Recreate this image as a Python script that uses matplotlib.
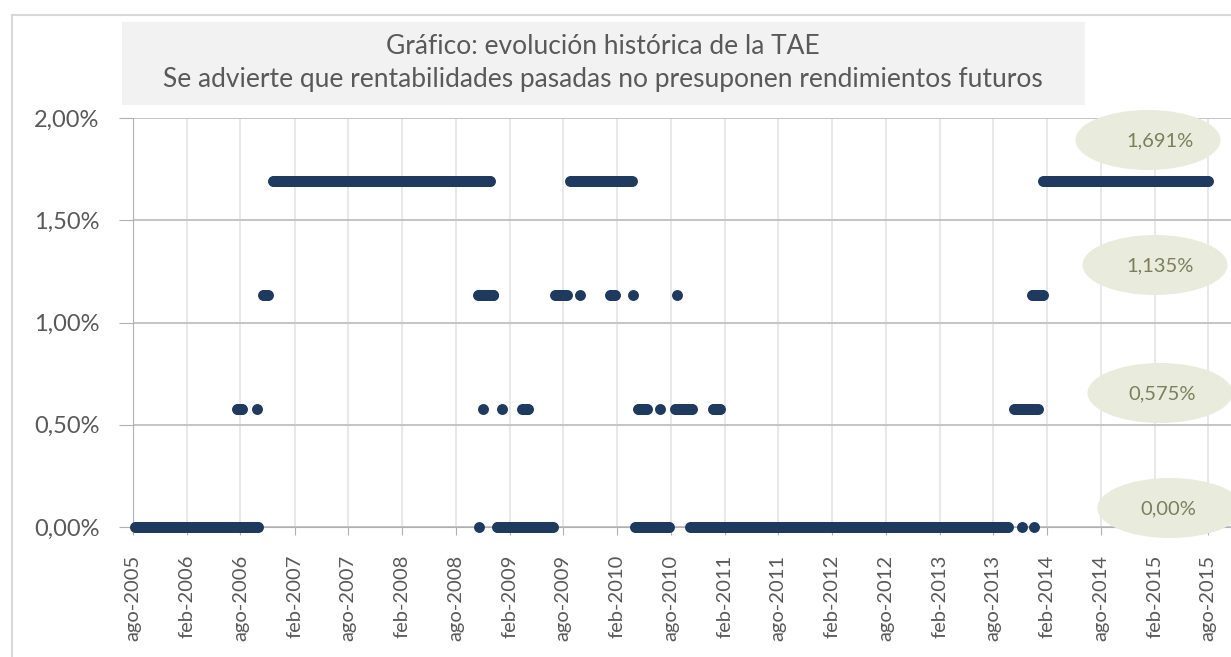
import matplotlib
matplotlib.use("Agg")
import matplotlib.pyplot as plt
from matplotlib.patches import Ellipse, Rectangle
import pandas as pd

plt.rcParams['font.family'] = ['Lato', 'DejaVu Sans']

# runs of constant TAE: (first date, last date)
runs_000 = [("2005-08-07", "2006-10-01"), ("2008-10-19", "2008-10-19"),
            ("2008-12-19", "2009-06-27"), ("2010-04-01", "2010-07-28"),
            ("2010-10-07", "2013-09-21"), ("2013-11-07", "2013-11-07"),
            ("2013-12-19", "2013-12-19")]
runs_0575 = [("2006-07-19", "2006-08-06"), ("2006-09-25", "2006-09-25"),
             ("2008-11-03", "2008-11-03"), ("2009-01-06", "2009-01-06"),
             ("2009-03-16", "2009-04-03"), ("2010-04-12", "2010-05-12"),
             ("2010-06-25", "2010-06-25"), ("2010-08-16", "2010-10-12"),
             ("2010-12-22", "2011-01-16"), ("2013-10-12", "2013-12-31")]
runs_1135 = [("2006-10-16", "2006-11-03"), ("2008-10-16", "2008-12-06"),
             ("2009-07-04", "2009-08-13"), ("2009-09-28", "2009-09-28"),
             ("2010-01-07", "2010-01-25"), ("2010-03-25", "2010-03-25"),
             ("2010-08-22", "2010-08-22"), ("2013-12-10", "2014-01-16")]
runs_1691 = [("2006-11-19", "2008-11-25"), ("2009-08-25", "2010-03-22"),
             ("2014-01-19", "2015-08-01")]

levels = [0.0, 0.00575, 0.01135, 0.01691]
level_labels = ["0,00%", "0,575%", "1,135%", "1,691%"]
all_runs = [runs_000, runs_0575, runs_1135, runs_1691]

tick_dates = ["2005-08-01", "2006-02-01", "2006-08-01", "2007-02-01", "2007-08-01",
              "2008-02-01", "2008-08-01", "2009-02-01", "2009-08-01", "2010-02-01",
              "2010-08-01", "2011-02-01", "2011-08-01", "2012-02-01", "2012-08-01",
              "2013-02-01", "2013-08-01", "2014-02-01", "2014-08-01", "2015-02-01",
              "2015-08-01"]
tick_labels = ["ago-2005", "feb-2006", "ago-2006", "feb-2007", "ago-2007", "feb-2008",
               "ago-2008", "feb-2009", "ago-2009", "feb-2010", "ago-2010", "feb-2011",
               "ago-2011", "feb-2012", "ago-2012", "feb-2013", "ago-2013", "feb-2014",
               "ago-2014", "feb-2015", "ago-2015"]
y_ticks = [0.0, 0.005, 0.010, 0.015, 0.020]
y_labels = ["0,00%", "0,50%", "1,00%", "1,50%", "2,00%"]

title_1 = "Gráfico: evolución histórica de la TAE"
title_2 = "Se advierte que rentabilidades pasadas no presuponen rendimientos futuros"

W, H = 1231, 657
text_col = "#595959"
dot_col = "#1f3a5f"

fig = plt.figure(figsize=(W / 100, H / 100), dpi=100)
fig.patch.set_facecolor("white")

ax = fig.add_axes([133 / W, 1 - 527 / H, (W - 133) / W, (527 - 118) / H])

for runs, lev in zip(all_runs, levels):
    for start, end in runs:
        dates = list(pd.date_range(start, end, freq="5D"))
        if dates[-1] != pd.Timestamp(end):
            dates.append(pd.Timestamp(end))
        ax.scatter(dates, [lev] * len(dates), s=62, color=dot_col, linewidths=0,
                   zorder=5, clip_on=False)

x0 = pd.Timestamp("2005-08-01")
ax.set_xlim(x0, x0 + pd.Timedelta(days=3730))
ax.set_ylim(0, 0.02)

ax.set_xticks(pd.to_datetime(tick_dates))
ax.set_xticklabels(tick_labels, rotation=90, fontsize=14.5, color=text_col)
ax.set_yticks(y_ticks)
ax.set_yticklabels(y_labels, fontsize=17, color=text_col)

ax.grid(axis="y", color="#c4c4c4", linewidth=1.4)
ax.grid(axis="x", color="#e4e4e4", linewidth=1.2)
ax.set_axisbelow(True)
for side in ["top", "right"]:
    ax.spines[side].set_visible(False)
ax.spines["left"].set_color("#b0b0b0")
ax.spines["bottom"].set_color("#b0b0b0")
ax.tick_params(axis="x", length=6, color="#b0b0b0", pad=14)
ax.tick_params(axis="y", length=10, color="#b0b0b0", pad=14)

# overlay in pixel coordinates for frame, title box and level labels
ov = fig.add_axes([0, 0, 1, 1], zorder=10)
ov.set_xlim(0, W)
ov.set_ylim(H, 0)
ov.axis("off")
ov.patch.set_alpha(0)

ov.plot([12, W], [15, 15], color="#d9d9d9", lw=1.5)
ov.plot([12, 12], [15, H], color="#d9d9d9", lw=1.5)

ov.add_patch(Rectangle((122, 22), 963, 83, facecolor="#f2f2f2", edgecolor="none"))
ov.text(603, 46, title_1, ha="center", va="center", fontsize=19, color=text_col)
ov.text(603, 80, title_2, ha="center", va="center", fontsize=19, color=text_col)

label_pos = [(1170, 508), (1160, 393), (1155, 265), (1148, 140)]
label_text_x = [1168, 1162, 1160, 1160]
for (cx, cy), tx, lab in zip(label_pos, label_text_x, level_labels):
    ov.add_patch(Ellipse((cx, cy), 145, 60, facecolor="#e9ebdc", edgecolor="none"))
    ov.text(tx, cy + 1, lab, ha="center", va="center", fontsize=14.5, color="#7c7f5e")

fig.savefig("out.png", dpi=100)
